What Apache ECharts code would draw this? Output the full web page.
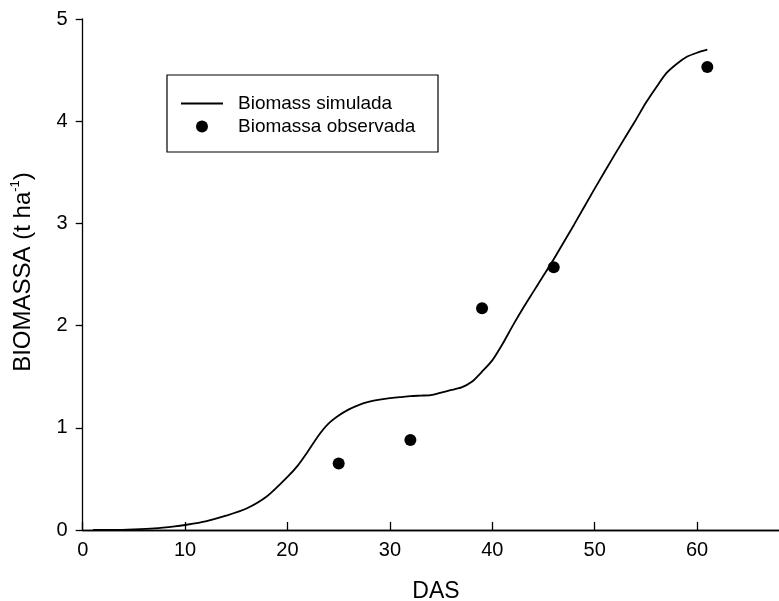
<!DOCTYPE html>
<html>
<head>
<meta charset="utf-8">
<script src="https://cdn.jsdelivr.net/npm/echarts@6/dist/echarts.min.js"></script>
<style>
  html, body { margin: 0; padding: 0; background: #fff; }
  #chart { width: 779px; height: 601px; }
</style>
</head>
<body>
<div id="chart"></div>
<script>
// simulated biomass (DAS, t/ha)
var sim_das = [1, 3, 5, 7, 9, 10, 12, 14, 16, 18, 20, 21, 22, 23, 24, 25, 26, 27, 28, 29, 30,
  31, 32, 33, 34, 35, 36, 37, 38, 39, 40, 41, 42, 43, 44, 45, 46, 48, 50, 52, 54, 55, 56, 57, 58, 59, 60, 61];
var sim_biomass = [0, 0, 0.005, 0.015, 0.035, 0.049, 0.085, 0.14, 0.21, 0.33, 0.52, 0.63, 0.77, 0.92, 1.04, 1.12,
  1.18, 1.225, 1.255, 1.275, 1.29, 1.30, 1.31, 1.315, 1.32, 1.345, 1.37, 1.395, 1.45, 1.55, 1.66, 1.82, 2.0,
  2.17, 2.33, 2.49, 2.65, 2.99, 3.34, 3.68, 4.01, 4.18, 4.33, 4.47, 4.56, 4.63, 4.67, 4.70];

// observed biomass
var obs_das = [25, 32, 39, 46, 61];
var obs_biomass = [0.65, 0.88, 2.17, 2.57, 4.53];

var x_ticks = [0, 10, 20, 30, 40, 50, 60];
var y_ticks = [0, 1, 2, 3, 4, 5];

var font = "'Liberation Sans', Arial, sans-serif";

var chart = echarts.init(document.getElementById('chart'));

var sim_data = sim_das.map(function (d, i) { return [d, sim_biomass[i]]; });
var obs_data = obs_das.map(function (d, i) { return [d, obs_biomass[i]]; });

var option = {
  animation: false,
  backgroundColor: '#fff',
  grid: { left: 82.7, right: 0, top: 19, bottom: 71 },
  xAxis: [{
    type: 'value',
    min: x_ticks[0],
    max: 68,
    interval: 10,
    splitLine: { show: false },
    axisLine: { onZero: false, lineStyle: { color: '#000', width: 1.3 } },
    axisTick: { inside: true, length: 8, lineStyle: { color: '#000', width: 1.3 } },
    axisLabel: { showMaxLabel: false, margin: 10, color: '#000', fontSize: 20, fontFamily: font }
  }, {
    type: 'value',
    position: 'top',
    min: 0,
    max: 68,
    axisLine: { show: true, lineStyle: { color: '#000', width: 1.3 } },
    axisTick: { show: false },
    axisLabel: { show: false },
    splitLine: { show: false }
  }],
  yAxis: {
    type: 'value',
    min: y_ticks[0],
    max: y_ticks[y_ticks.length - 1],
    interval: 1,
    splitLine: { show: false },
    axisLine: { show: true, onZero: false, lineStyle: { color: '#000', width: 1.3 } },
    axisTick: { show: true, length: 7, lineStyle: { color: '#000', width: 1.3 } },
    axisLabel: { margin: 15, color: '#000', fontSize: 20, fontFamily: font }
  },
  legend: {
    orient: 'vertical',
    left: 181,
    top: 94,
    padding: 0,
    itemWidth: 42,
    itemHeight: 12,
    itemGap: 4,
    selectedMode: false,
    textStyle: { color: '#000', fontSize: 19, fontFamily: font, padding: [0, 0, 0, 10] },
    data: [
      { name: 'Biomass simulada', icon: 'path://M0,0L42,0L42,1.8L0,1.8Z' },
      { name: 'Biomassa observada', icon: 'circle' }
    ]
  },
  graphic: [{
    type: 'rect',
    shape: { x: 167, y: 75, width: 271, height: 77 },
    style: { fill: 'none', stroke: '#000', lineWidth: 1.2 }
  }, {
    type: 'text',
    x: 436,
    y: 592,
    style: { text: 'DAS', fill: '#000', fontSize: 23, fontFamily: font, align: 'center', verticalAlign: 'middle' }
  }, {
    type: 'text',
    x: 22,
    y: 272,
    rotation: Math.PI / 2,
    style: {
      text: '{a|BIOMASSA (t ha}{s|-1}{a|)}',
      fill: '#000',
      align: 'center',
      verticalAlign: 'middle',
      rich: {
        a: { fontSize: 24, fontFamily: font, color: '#000', lineHeight: 26, verticalAlign: 'bottom' },
        s: { fontSize: 13, fontFamily: font, color: '#000', lineHeight: 26, verticalAlign: 'top' }
      }
    }
  }],
  series: [{
    name: 'Biomass simulada',
    type: 'line',
    data: sim_data,
    symbol: 'none',
    smooth: 0.25,
    lineStyle: { color: '#000', width: 1.8 },
    itemStyle: { color: '#000' }
  }, {
    name: 'Biomassa observada',
    type: 'scatter',
    data: obs_data,
    symbol: 'circle',
    symbolSize: 12,
    itemStyle: { color: '#000', opacity: 1 }
  }]
};

chart.setOption(option);
</script>
</body>
</html>
